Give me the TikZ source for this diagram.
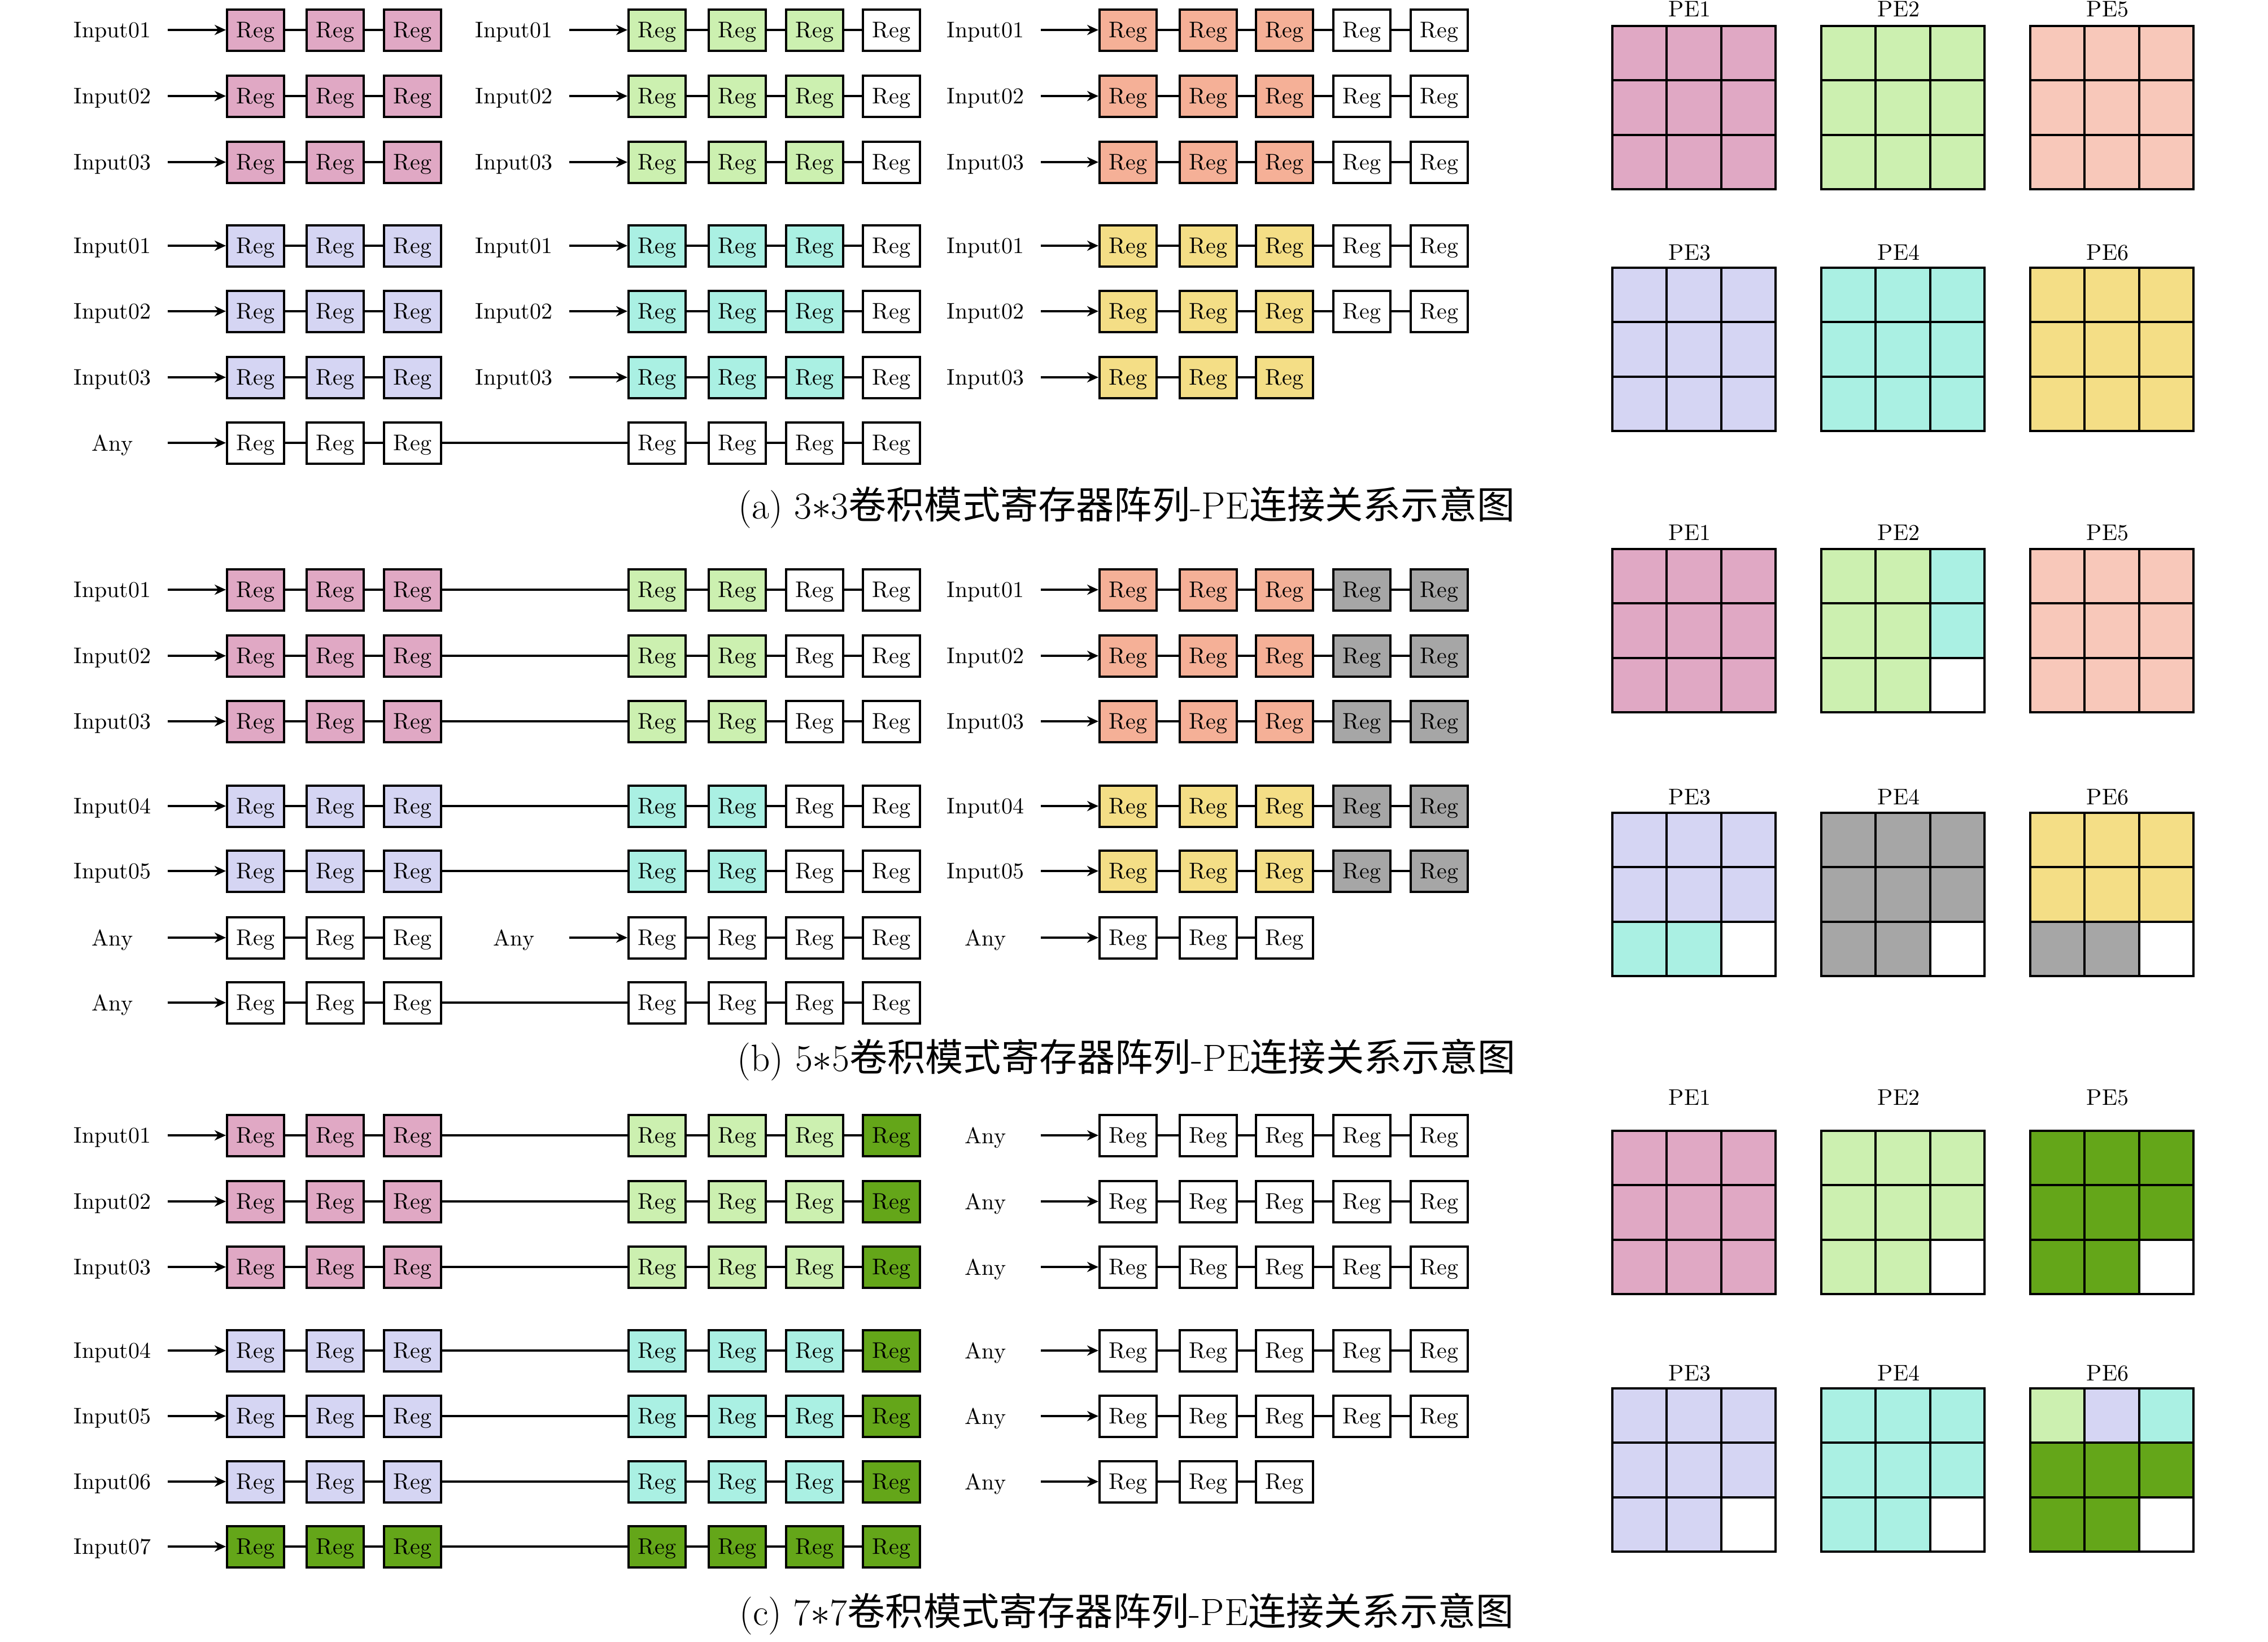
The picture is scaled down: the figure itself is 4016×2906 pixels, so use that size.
\documentclass[tikz,border=0pt]{standalone}
\usepackage{fontspec}
\newfontfamily\cjk{Noto Sans CJK SC}
\usetikzlibrary{arrows.meta}
\definecolor{cpink}{HTML}{E0A8C4}
\definecolor{cgreen}{HTML}{CCF0B0}
\definecolor{csalmon}{HTML}{F5B097}
\definecolor{csalmonl}{HTML}{F8C8BA}
\definecolor{clav}{HTML}{D5D5F3}
\definecolor{ccyan}{HTML}{AAF0E3}
\definecolor{cyel}{HTML}{F4DE86}
\definecolor{cgray}{HTML}{A6A6A6}
\definecolor{cdkg}{HTML}{64A619}
\tikzset{
  reg/.style={draw, line width=1pt, minimum width=25.25pt, minimum height=18.25pt, inner sep=0pt, text depth=0pt, font=\fontsize{10}{12}\selectfont},
  lab/.style={inner sep=0pt, text depth=0pt, font=\fontsize{10}{12}\selectfont},
  pelab/.style={inner sep=0pt, text depth=0pt, font=\fontsize{10}{12}\selectfont},
  link/.style={line width=1pt},
  arr/.style={line width=1pt, -{Stealth[length=5pt,width=4.5pt]}},
  gline/.style={line width=1pt},
  captxt/.style={inner sep=0pt, anchor=base, font=\fontsize{16.8}{20}\selectfont}
}
\newcommand\regchain[3]{%
  \foreach \xx/\cc [count=\i] in {#3}{%
    \node[reg, fill=\cc] (#1\i) at (\xx+50.5,#2) {Reg};
    \ifnum\i>1 \pgfmathtruncatemacro\jj{\i-1}\draw[link] (#1\jj.east) -- (#1\i.west);\fi
  }}
\newcommand\feedin[4]{%
  \node[lab] (#1L) at (#3,#2) {#4};
  \coordinate (#1S) at (#3+98,#2);
  \draw[arr] (#1S) -- (#11.west);}
\newcommand\pegrid[6]{%
  \foreach \cc [count=\k from 0] in {#6}{%
    \pgfmathtruncatemacro\rr{\k/3}%
    \pgfmathtruncatemacro\ccol{\k-3*\rr}%
    \fill[\cc] (#2+\ccol*96.33,#3+\rr*96.33) rectangle ++(96.33,96.33);}
  \foreach \t in {1,2}{\draw[gline] (#2+\t*96.33,#3) -- ++(0,289); \draw[gline] (#2,#3+\t*96.33) -- ++(289,0);}
  \draw[gline] (#2,#3) rectangle ++(289,289);
  \node[pelab] (#1) at (#2+137,#4) {#5};}
\begin{document}
\begin{tikzpicture}[x=0.25pt, y=-0.25pt]
\useasboundingbox (0,0) rectangle (4016,2906);
% ---------------- (a)
\regchain{aAp}{53}{402/cpink,543/cpink,680/cpink}\feedin{aAp}{53}{199}{Input01}
\regchain{aAq}{53}{1113/cgreen,1255/cgreen,1392/cgreen,1528/white}\feedin{aAq}{53}{910}{Input01}
\regchain{aAr}{53}{1947/csalmon,2089/csalmon,2224/csalmon,2361/white,2498/white}\feedin{aAr}{53}{1745}{Input01}
\regchain{aBp}{170}{402/cpink,543/cpink,680/cpink}\feedin{aBp}{170}{199}{Input02}
\regchain{aBq}{170}{1113/cgreen,1255/cgreen,1392/cgreen,1528/white}\feedin{aBq}{170}{910}{Input02}
\regchain{aBr}{170}{1947/csalmon,2089/csalmon,2224/csalmon,2361/white,2498/white}\feedin{aBr}{170}{1745}{Input02}
\regchain{aCp}{287}{402/cpink,543/cpink,680/cpink}\feedin{aCp}{287}{199}{Input03}
\regchain{aCq}{287}{1113/cgreen,1255/cgreen,1392/cgreen,1528/white}\feedin{aCq}{287}{910}{Input03}
\regchain{aCr}{287}{1947/csalmon,2089/csalmon,2224/csalmon,2361/white,2498/white}\feedin{aCr}{287}{1745}{Input03}
\regchain{aDp}{435}{402/clav,543/clav,680/clav}\feedin{aDp}{435}{199}{Input01}
\regchain{aDq}{435}{1113/ccyan,1255/ccyan,1392/ccyan,1528/white}\feedin{aDq}{435}{910}{Input01}
\regchain{aDr}{435}{1947/cyel,2089/cyel,2224/cyel,2361/white,2498/white}\feedin{aDr}{435}{1745}{Input01}
\regchain{aEp}{551}{402/clav,543/clav,680/clav}\feedin{aEp}{551}{199}{Input02}
\regchain{aEq}{551}{1113/ccyan,1255/ccyan,1392/ccyan,1528/white}\feedin{aEq}{551}{910}{Input02}
\regchain{aEr}{551}{1947/cyel,2089/cyel,2224/cyel,2361/white,2498/white}\feedin{aEr}{551}{1745}{Input02}
\regchain{aFp}{668}{402/clav,543/clav,680/clav}\feedin{aFp}{668}{199}{Input03}
\regchain{aFq}{668}{1113/ccyan,1255/ccyan,1392/ccyan,1528/white}\feedin{aFq}{668}{910}{Input03}
\regchain{aFr}{668}{1947/cyel,2089/cyel,2224/cyel}\feedin{aFr}{668}{1745}{Input03}
\regchain{aGp}{784}{402/white,543/white,680/white}\feedin{aGp}{784}{199}{Any}
\regchain{aGq}{784}{1113/white,1255/white,1392/white,1528/white}
\draw[link] (aGp3.east) -- (aGq1.west);
\node[captxt] (capa) at (1995,918) {(a) 3$*$3{\cjk 卷积模式寄存器阵列}-PE{\cjk 连接关系示意图}};
% ---------------- (b)
\regchain{bAp}{1044}{402/cpink,543/cpink,680/cpink}\feedin{bAp}{1044}{199}{Input01}
\regchain{bAq}{1044}{1113/cgreen,1255/cgreen,1392/white,1528/white}\draw[link] (bAp3.east) -- (bAq1.west);
\regchain{bAr}{1044}{1947/csalmon,2089/csalmon,2224/csalmon,2361/cgray,2498/cgray}\feedin{bAr}{1044}{1745}{Input01}
\regchain{bBp}{1161}{402/cpink,543/cpink,680/cpink}\feedin{bBp}{1161}{199}{Input02}
\regchain{bBq}{1161}{1113/cgreen,1255/cgreen,1392/white,1528/white}\draw[link] (bBp3.east) -- (bBq1.west);
\regchain{bBr}{1161}{1947/csalmon,2089/csalmon,2224/csalmon,2361/cgray,2498/cgray}\feedin{bBr}{1161}{1745}{Input02}
\regchain{bCp}{1277}{402/cpink,543/cpink,680/cpink}\feedin{bCp}{1277}{199}{Input03}
\regchain{bCq}{1277}{1113/cgreen,1255/cgreen,1392/white,1528/white}\draw[link] (bCp3.east) -- (bCq1.west);
\regchain{bCr}{1277}{1947/csalmon,2089/csalmon,2224/csalmon,2361/cgray,2498/cgray}\feedin{bCr}{1277}{1745}{Input03}
\regchain{bDp}{1427}{402/clav,543/clav,680/clav}\feedin{bDp}{1427}{199}{Input04}
\regchain{bDq}{1427}{1113/ccyan,1255/ccyan,1392/white,1528/white}\draw[link] (bDp3.east) -- (bDq1.west);
\regchain{bDr}{1427}{1947/cyel,2089/cyel,2224/cyel,2361/cgray,2498/cgray}\feedin{bDr}{1427}{1745}{Input04}
\regchain{bEp}{1542}{402/clav,543/clav,680/clav}\feedin{bEp}{1542}{199}{Input05}
\regchain{bEq}{1542}{1113/ccyan,1255/ccyan,1392/white,1528/white}\draw[link] (bEp3.east) -- (bEq1.west);
\regchain{bEr}{1542}{1947/cyel,2089/cyel,2224/cyel,2361/cgray,2498/cgray}\feedin{bEr}{1542}{1745}{Input05}
\regchain{bFp}{1660}{402/white,543/white,680/white}\feedin{bFp}{1660}{199}{Any}
\regchain{bFq}{1660}{1113/white,1255/white,1392/white,1528/white}\feedin{bFq}{1660}{910}{Any}
\regchain{bFr}{1660}{1947/white,2089/white,2224/white}\feedin{bFr}{1660}{1745}{Any}
\regchain{bGp}{1775}{402/white,543/white,680/white}\feedin{bGp}{1775}{199}{Any}
\regchain{bGq}{1775}{1113/white,1255/white,1392/white,1528/white}\draw[link] (bGp3.east) -- (bGq1.west);
\node[captxt] (capb) at (1995,1896) {(b) 5$*$5{\cjk 卷积模式寄存器阵列}-PE{\cjk 连接关系示意图}};
% ---------------- (c)
\regchain{cAp}{2010}{402/cpink,543/cpink,680/cpink}\feedin{cAp}{2010}{199}{Input01}
\regchain{cAq}{2010}{1113/cgreen,1255/cgreen,1392/cgreen,1528/cdkg}\draw[link] (cAp3.east) -- (cAq1.west);
\regchain{cAr}{2010}{1947/white,2089/white,2224/white,2361/white,2498/white}\feedin{cAr}{2010}{1745}{Any}
\regchain{cBp}{2127}{402/cpink,543/cpink,680/cpink}\feedin{cBp}{2127}{199}{Input02}
\regchain{cBq}{2127}{1113/cgreen,1255/cgreen,1392/cgreen,1528/cdkg}\draw[link] (cBp3.east) -- (cBq1.west);
\regchain{cBr}{2127}{1947/white,2089/white,2224/white,2361/white,2498/white}\feedin{cBr}{2127}{1745}{Any}
\regchain{cCp}{2243}{402/cpink,543/cpink,680/cpink}\feedin{cCp}{2243}{199}{Input03}
\regchain{cCq}{2243}{1113/cgreen,1255/cgreen,1392/cgreen,1528/cdkg}\draw[link] (cCp3.east) -- (cCq1.west);
\regchain{cCr}{2243}{1947/white,2089/white,2224/white,2361/white,2498/white}\feedin{cCr}{2243}{1745}{Any}
\regchain{cDp}{2391}{402/clav,543/clav,680/clav}\feedin{cDp}{2391}{199}{Input04}
\regchain{cDq}{2391}{1113/ccyan,1255/ccyan,1392/ccyan,1528/cdkg}\draw[link] (cDp3.east) -- (cDq1.west);
\regchain{cDr}{2391}{1947/white,2089/white,2224/white,2361/white,2498/white}\feedin{cDr}{2391}{1745}{Any}
\regchain{cEp}{2507}{402/clav,543/clav,680/clav}\feedin{cEp}{2507}{199}{Input05}
\regchain{cEq}{2507}{1113/ccyan,1255/ccyan,1392/ccyan,1528/cdkg}\draw[link] (cEp3.east) -- (cEq1.west);
\regchain{cEr}{2507}{1947/white,2089/white,2224/white,2361/white,2498/white}\feedin{cEr}{2507}{1745}{Any}
\regchain{cFp}{2623}{402/clav,543/clav,680/clav}\feedin{cFp}{2623}{199}{Input06}
\regchain{cFq}{2623}{1113/ccyan,1255/ccyan,1392/ccyan,1528/cdkg}\draw[link] (cFp3.east) -- (cFq1.west);
\regchain{cFr}{2623}{1947/white,2089/white,2224/white}\feedin{cFr}{2623}{1745}{Any}
\regchain{cGp}{2738}{402/cdkg,543/cdkg,680/cdkg}\feedin{cGp}{2738}{199}{Input07}
\regchain{cGq}{2738}{1113/cdkg,1255/cdkg,1392/cdkg,1528/cdkg}\draw[link] (cGp3.east) -- (cGq1.west);
\node[captxt] (capc) at (1995,2877) {(c) 7$*$7{\cjk 卷积模式寄存器阵列}-PE{\cjk 连接关系示意图}};
% ---------------- PE grids (a)
\pegrid{aPE1}{2855}{46}{16}{PE1}{cpink,cpink,cpink,cpink,cpink,cpink,cpink,cpink,cpink}
\pegrid{aPE2}{3225}{46}{16}{PE2}{cgreen,cgreen,cgreen,cgreen,cgreen,cgreen,cgreen,cgreen,cgreen}
\pegrid{aPE5}{3595}{46}{16}{PE5}{csalmonl,csalmonl,csalmonl,csalmonl,csalmonl,csalmonl,csalmonl,csalmonl,csalmonl}
\pegrid{aPE3}{2855}{474}{447}{PE3}{clav,clav,clav,clav,clav,clav,clav,clav,clav}
\pegrid{aPE4}{3225}{474}{447}{PE4}{ccyan,ccyan,ccyan,ccyan,ccyan,ccyan,ccyan,ccyan,ccyan}
\pegrid{aPE6}{3595}{474}{447}{PE6}{cyel,cyel,cyel,cyel,cyel,cyel,cyel,cyel,cyel}
% ---------------- PE grids (b)
\pegrid{bPE1}{2855}{972}{943}{PE1}{cpink,cpink,cpink,cpink,cpink,cpink,cpink,cpink,cpink}
\pegrid{bPE2}{3225}{972}{943}{PE2}{cgreen,cgreen,ccyan,cgreen,cgreen,ccyan,cgreen,cgreen,white}
\pegrid{bPE5}{3595}{972}{943}{PE5}{csalmonl,csalmonl,csalmonl,csalmonl,csalmonl,csalmonl,csalmonl,csalmonl,csalmonl}
\pegrid{bPE3}{2855}{1439}{1411}{PE3}{clav,clav,clav,clav,clav,clav,ccyan,ccyan,white}
\pegrid{bPE4}{3225}{1439}{1411}{PE4}{cgray,cgray,cgray,cgray,cgray,cgray,cgray,cgray,white}
\pegrid{bPE6}{3595}{1439}{1411}{PE6}{cyel,cyel,cyel,cyel,cyel,cyel,cgray,cgray,white}
% ---------------- PE grids (c)
\pegrid{cPE1}{2855}{2002}{1943}{PE1}{cpink,cpink,cpink,cpink,cpink,cpink,cpink,cpink,cpink}
\pegrid{cPE2}{3225}{2002}{1943}{PE2}{cgreen,cgreen,cgreen,cgreen,cgreen,cgreen,cgreen,cgreen,white}
\pegrid{cPE5}{3595}{2002}{1943}{PE5}{cdkg,cdkg,cdkg,cdkg,cdkg,cdkg,cdkg,cdkg,white}
\pegrid{cPE3}{2855}{2458}{2431}{PE3}{clav,clav,clav,clav,clav,clav,clav,clav,white}
\pegrid{cPE4}{3225}{2458}{2431}{PE4}{ccyan,ccyan,ccyan,ccyan,ccyan,ccyan,ccyan,ccyan,white}
\pegrid{cPE6}{3595}{2458}{2431}{PE6}{cgreen,clav,ccyan,cdkg,cdkg,cdkg,cdkg,cdkg,white}
\end{tikzpicture}
\end{document}
